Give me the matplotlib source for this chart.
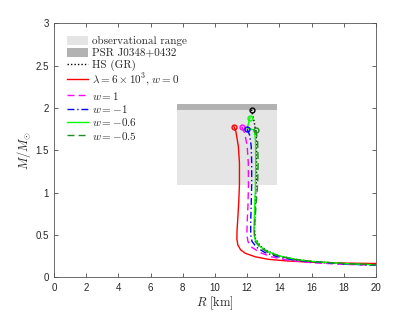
import matplotlib
matplotlib.use("Agg")
import matplotlib.pyplot as plt
from matplotlib.patches import Rectangle, Patch
from matplotlib.lines import Line2D

plt.rcParams['mathtext.fontset'] = 'cm'
plt.rcParams['font.family'] = ['Liberation Sans', 'DejaVu Sans']

# observational constraints
obs_R = [7.64, 13.87]
obs_M = [1.09, 1.97]
psr_M = [1.97, 2.05]

# mass-radius curves (R in km, M in solar masses)
R_hs = [12.27, 12.45, 12.55, 12.58, 12.58, 12.52, 12.47, 12.45, 12.52, 12.85, 13.35, 14.0, 15.0, 16.0, 18.0, 20.0]
M_hs = [1.98, 1.82, 1.70, 1.50, 1.20, 0.95, 0.70, 0.55, 0.45, 0.36, 0.30, 0.25, 0.21, 0.185, 0.16, 0.145]

R_lam = [11.18, 11.30, 11.45, 11.52, 11.52, 11.48, 11.42, 11.37, 11.36, 11.42, 11.60, 11.90, 12.50, 13.30, 14.50, 16.0, 18.0, 20.0]
M_lam = [1.78, 1.72, 1.55, 1.35, 1.10, 0.90, 0.70, 0.55, 0.45, 0.38, 0.32, 0.28, 0.24, 0.21, 0.19, 0.175, 0.165, 0.16]

R_w1 = [11.66, 11.85, 12.00, 12.07, 12.08, 12.05, 12.00, 11.98, 12.05, 12.30, 12.80, 13.50, 14.50, 16.0, 18.0, 20.0]
M_w1 = [1.78, 1.70, 1.55, 1.35, 1.10, 0.85, 0.65, 0.50, 0.42, 0.35, 0.29, 0.24, 0.20, 0.17, 0.15, 0.14]

R_wm1 = [12.00, 12.15, 12.25, 12.28, 12.28, 12.25, 12.22, 12.22, 12.30, 12.60, 13.10, 13.80, 14.80, 16.0, 18.0, 20.0]
M_wm1 = [1.75, 1.68, 1.55, 1.35, 1.10, 0.85, 0.65, 0.50, 0.42, 0.35, 0.29, 0.245, 0.205, 0.18, 0.155, 0.14]

R_wm06 = [12.17, 12.00, 12.45, 12.52, 12.53, 12.50, 12.45, 12.42, 12.48, 12.80, 13.30, 14.0, 15.0, 16.0, 18.0, 20.0]
M_wm06 = [1.88, 1.76, 1.74, 1.60, 1.30, 1.00, 0.75, 0.55, 0.45, 0.36, 0.30, 0.25, 0.21, 0.185, 0.16, 0.145]

R_wm05 = [12.55, 12.65, 12.68, 12.65, 12.55, 12.48, 12.45, 12.50, 12.80, 13.30, 14.0, 15.0, 16.0, 18.0, 20.0]
M_wm05 = [1.74, 1.60, 1.35, 1.10, 0.85, 0.65, 0.50, 0.42, 0.35, 0.29, 0.245, 0.205, 0.185, 0.16, 0.145]

x_ticks = [0, 2, 4, 6, 8, 10, 12, 14, 16, 18, 20]
y_ticks = [0, 0.5, 1, 1.5, 2, 2.5, 3]
y_ticklabels = ['0', '0.5', '1', '1.5', '2', '2.5', '3']

fig = plt.figure(figsize=(4.15, 3.12), dpi=100)
ax = fig.add_axes([0.130, 0.112, 0.776, 0.813])

light = '#e5e5e5'
dark = '#b2b2b2'
ax.add_patch(Rectangle((obs_R[0], obs_M[0]), obs_R[1] - obs_R[0], obs_M[1] - obs_M[0],
                       facecolor=light, edgecolor='none', zorder=1))
ax.add_patch(Rectangle((obs_R[0], psr_M[0]), obs_R[1] - obs_R[0], psr_M[1] - psr_M[0],
                       facecolor=dark, edgecolor='none', zorder=1))

curves = [
    (R_hs, M_hs, 'k', (0, (1, 1.5)), 'HS (GR)'),
    (R_lam, M_lam, '#ff0000', '-', r'$\lambda=6\times10^3,\, w=0$'),
    (R_w1, M_w1, '#ff00ff', (0, (5, 3)), r'$w=1$'),
    (R_wm1, M_wm1, '#0000ff', (0, (5, 2, 1, 2)), r'$w=-1$'),
    (R_wm06, M_wm06, '#00ff00', '-', r'$w=-0.6$'),
    (R_wm05, M_wm05, '#228b22', (0, (5, 3)), r'$w=-0.5$'),
]
handles = [Patch(facecolor=light, edgecolor='none', label='observational range'),
           Patch(facecolor=dark, edgecolor='none', label='PSR J0348+0432')]
for R, M, c, ls, lab in curves:
    ax.plot(R, M, color=c, linestyle=ls, lw=1.0, zorder=3)
    ax.plot(R[0], M[0], marker='o', ms=3.5, mfc='none', mec=c, mew=1.0, zorder=4)
    handles.append(Line2D([], [], color=c, linestyle=ls, lw=1.0, label=lab))

ax.set_xlim(0, 20)
ax.set_ylim(0, 3)
ax.set_xticks(x_ticks)
ax.set_xticklabels([str(t) for t in x_ticks])
ax.set_yticks(y_ticks)
ax.set_yticklabels(y_ticklabels)
axcol = '#262626'
for s in ax.spines.values():
    s.set_color('#555555')
    s.set_linewidth(0.6)
ax.tick_params(direction='in', length=3, width=0.5, colors=axcol, labelsize=7,
               top=True, right=True, labelcolor='#262626')
ax.tick_params(axis='x', pad=4)

ax.set_xlabel(r'$R\ [\mathrm{km}]$', fontsize=9, color=axcol, labelpad=1)
ax.set_ylabel(r'$M/M_{\odot}$', fontsize=9, color=axcol, labelpad=2)

leg = ax.legend(handles=handles, loc='upper left', bbox_to_anchor=(0.0, 1.0),
                frameon=False, handlelength=1.95, handleheight=0.85, handletextpad=0.35,
                labelspacing=0.12, borderaxespad=0.75,
                prop={'family': 'serif', 'size': 8})
for t in leg.get_texts():
    t.set_family(['cmr10', 'DejaVu Serif'])
    t.set_color(axcol)

fig.savefig('out.png', dpi=100)
